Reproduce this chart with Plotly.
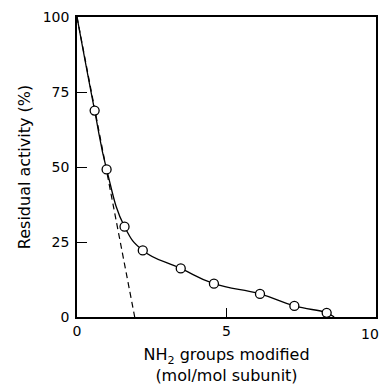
import plotly.graph_objects as go

# Data
pts_x = [0.59, 0.99, 1.59, 2.20, 3.47, 4.58, 6.12, 7.27, 8.35]
pts_y = [68.8, 49.2, 30.1, 22.2, 16.2, 11.1, 7.7, 3.7, 1.4]

curve_x = [0.0, 0.59, 0.99, 1.59, 2.20, 3.47, 4.58, 6.12, 7.27, 8.35, 8.6]
curve_y = [100.0, 68.8, 49.2, 30.1, 22.2, 16.2, 11.1, 7.7, 3.7, 1.4, 0.0]

dash_x = [0.0, 1.93]
dash_y = [100.0, 0.0]

x_ticks = [0, 5, 10]
x_ticklabels = ["0", "5", "10"]
y_ticks = [0, 25, 50, 75, 100]
y_ticklabels = ["0", "25", "50", "75", "100"]

FAM = "DejaVu Sans, Liberation Sans, sans-serif"
tick_font = dict(family=FAM, size=14, color="black")
title_font = dict(family=FAM, size=16, color="black")

fig = go.Figure()
fig.add_trace(go.Scatter(x=dash_x, y=dash_y, mode="lines",
                         line=dict(color="black", width=1.2, dash="6px,4px"),
                         showlegend=False, hoverinfo="skip"))
fig.add_trace(go.Scatter(x=curve_x, y=curve_y, mode="lines",
                         line=dict(color="black", width=1.3, shape="spline", smoothing=1.3),
                         showlegend=False))
fig.add_trace(go.Scatter(x=pts_x, y=pts_y, mode="markers",
                         marker=dict(symbol="circle", size=9, color="white",
                                     line=dict(color="black", width=1.3)),
                         showlegend=False))

# last x tick label drawn right-aligned so it stays inside the page edge
fig.add_annotation(x=x_ticks[-1], xref="x", y=0, yref="paper",
                   text=x_ticklabels[-1], showarrow=False,
                   xanchor="right", yanchor="top", xshift=4, yshift=-8,
                   borderpad=0, font=tick_font)

fig.update_layout(
    width=381, height=385,
    margin=dict(l=77, r=5, t=17, b=68, autoexpand=False),
    paper_bgcolor="white", plot_bgcolor="white",
    font=tick_font,
    xaxis=dict(range=[0, 10], tickvals=x_ticks,
               ticktext=x_ticklabels[:-1] + [""],
               ticks="inside", ticklen=9, tickwidth=1.2, tickcolor="black",
               tickfont=tick_font,
               showline=True, linecolor="black", linewidth=1.5, mirror=True,
               showgrid=False, zeroline=False,
               title=dict(text="NH<sub>2</sub> groups modified<br>(mol/mol subunit)",
                          font=title_font, standoff=12)),
    yaxis=dict(range=[0, 100], tickvals=y_ticks, ticktext=y_ticklabels,
               ticks="inside", ticklen=10, tickwidth=1.2, tickcolor="black",
               tickfont=tick_font, ticklabelstandoff=3,
               showline=True, linecolor="black", linewidth=1.5, mirror=True,
               showgrid=False, zeroline=False,
               title=dict(text="Residual activity (%)", font=title_font, standoff=8)),
)

fig.write_html("out.html", config={"displayModeBar": False},
               post_script="document.body.style.margin='0px';")
